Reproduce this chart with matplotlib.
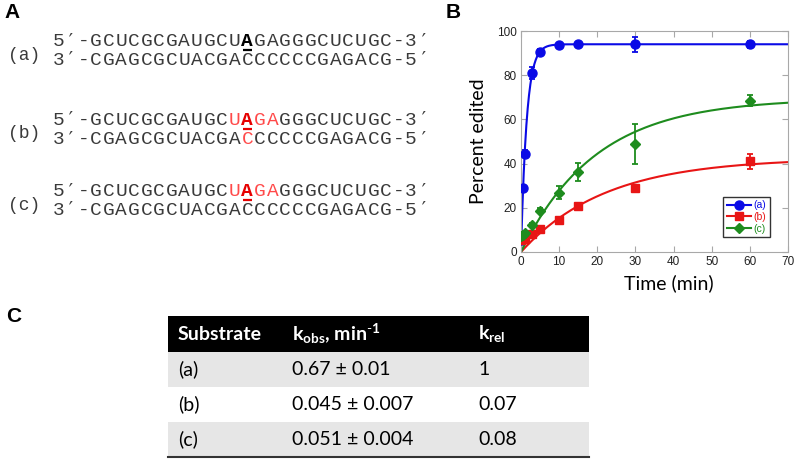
import numpy as np
import matplotlib.pyplot as plt
from matplotlib.patches import Rectangle

plt.rcParams['mathtext.fontset'] = 'custom'
plt.rcParams['mathtext.rm'] = 'Lato'
plt.rcParams['mathtext.it'] = 'Lato:italic'
plt.rcParams['mathtext.bf'] = 'Lato:bold'

# -------------------------
# DATA
# -------------------------
# panel A: duplexes
seq_top = "GCUCGCGAUGCUAGAGGGCUCUGC"
seq_bottom = "CGAGCGCUACGACCCCCCGAGACG"
constructs = ['(a)', '(b)', '(c)']
edited_pos = 12
red_top = [[], [11, 13, 14], [11, 13, 14]]
red_bottom = [[], [12], []]

# panel B: time course (percent edited)
time = [0, 0.5, 1, 3, 5, 10, 15, 30, 60]
edit_a = [5.5, 29, 44.5, 81, 90.5, 93.5, 94, 94, 94]
err_a = [1, 1, 1.5, 2.5, 1.5, 1, 1.2, 3.5, 1.5]
edit_b = [5.6, 6, 6, 8, 10.4, 14.5, 20.8, 29, 41]
err_b = [0.8, 0.8, 0.8, 1, 0.8, 0.8, 0.8, 1, 3.5]
edit_c = [7.2, 7.6, 8.5, 12.2, 18.7, 26.8, 36.3, 49, 68.5]
err_c = [0.8, 1, 1.2, 1, 1, 3, 4, 9, 2.5]
k_fit = [0.67, 0.045, 0.051]
amp_fit = [94, 42.5, 69.5]

# panel C: table
col_names = ['Substrate', r'k$_\mathbf{obs}$, min$^\mathbf{\text{-}1}$', r'k$_\mathbf{rel}$']
kobs_txt = ['0.67 ± 0.01', '0.045 ± 0.007', '0.051 ± 0.004']
krel_txt = ['1', '0.07', '0.08']

W, H = 796, 459
fig = plt.figure(figsize=(W / 100, H / 100), dpi=100)
bg = fig.add_axes([0, 0, 1, 1])
bg.set_xlim(0, W)
bg.set_ylim(H, 0)
bg.axis('off')

# -------------------------
# PANEL A
# -------------------------
mono = ['Liberation Mono', 'DejaVu Sans Mono']
pitch = 12.6
x0 = 52
gray = '#3a3a3a'
red_light = '#ff4a4a'
red_dark = '#e60000'


def draw_row(y, prefix, seq, suffix, red, bold=None, bold_color='k'):
    chars = list(prefix) + list(seq) + list(suffix)
    for i, ch in enumerate(chars):
        j = i - len(prefix)
        color, weight = gray, 'normal'
        if 0 <= j < len(seq) and j in red:
            color = red_light
        if bold is not None and j == bold:
            color, weight = bold_color, 'bold'
        fam = ['DejaVu Sans Mono'] if ch == '′' else mono
        bg.text(x0 + (i + 0.5) * pitch, y, ch, ha='center', va='baseline',
                family=fam, fontsize=14, color=color, fontweight=weight)
    if bold is not None:
        xl = x0 + (len(prefix) + bold) * pitch
        bg.plot([xl + 1.5, xl + pitch - 1.5], [y + 4, y + 4], color=bold_color,
                lw=1.6, solid_capstyle='butt')


row_top = [46, 125, 196]
for k, name in enumerate(constructs):
    y = row_top[k]
    bcol = 'k' if k == 0 else red_dark
    bg.text(8, y + 9, name, family=mono, fontsize=13, color=gray,
            ha='left', va='center')
    draw_row(y, "5′-", seq_top, "-3′", red_top[k], bold=edited_pos, bold_color=bcol)
    draw_row(y + 19, "3′-", seq_bottom, "-5′", red_bottom[k])

bg.text(4, 12, 'A', fontsize=15, fontweight='bold', family='Liberation Sans',
        ha='left', va='center')
bg.text(446, 12, 'B', fontsize=15, fontweight='bold', family='Liberation Sans',
        ha='left', va='center')
bg.text(6, 316, 'C', fontsize=15, fontweight='bold', family='Liberation Sans',
        ha='left', va='center')

# -------------------------
# PANEL B
# -------------------------
ax = fig.add_axes([521 / W, 1 - 252 / H, 267 / W, 221 / H])
tt = np.linspace(0, 70, 400)
series = [
    ('(a)', edit_a, err_a, '#0a0ae6', 'o', 6.5),
    ('(b)', edit_b, err_b, '#e81515', 's', 6),
    ('(c)', edit_c, err_c, '#1e8c1e', 'D', 5),
]
for (lab, vals, err, col, mk, ms), k, A in zip(series, k_fit, amp_fit):
    ax.plot(tt, A * (1 - np.exp(-k * tt)), color=col, lw=1.5, zorder=2)
    ax.errorbar(time, vals, yerr=err, fmt=mk, color=col, ms=ms, capsize=2.5,
                elinewidth=1.3, capthick=1.3, zorder=3)
    ax.plot([], [], color=col, marker=mk, ms=ms, lw=1.5, label=lab)

ax.set_xlim(0, 70)
ax.set_ylim(0, 100)
ax.set_xticks(range(0, 71, 10))
ax.set_yticks(range(0, 101, 20))
for s in ax.spines.values():
    s.set_color('#a8a8a8')
ax.tick_params(direction='in', top=True, right=True, length=4, color='#a8a8a8',
               labelsize=8.5, labelcolor='#222222', pad=3)
for lbl in ax.get_xticklabels() + ax.get_yticklabels():
    lbl.set_family('Liberation Sans')
ax.set_ylabel('Percent edited', family='Lato', fontsize=14, labelpad=7)
ax.set_xlabel('Time (min)', family='Lato', fontsize=14)
ax.xaxis.set_label_coords(0.555, -0.1)

leg = ax.legend(loc='upper left', bbox_to_anchor=(0.757, 0.25), borderaxespad=0,
                fancybox=False, framealpha=1, edgecolor='#333333',
                handlelength=2.3, handletextpad=0.3, labelspacing=0.15,
                borderpad=0.35, prop={'family': 'Liberation Sans', 'size': 7.5},
                labelcolor='linecolor')
leg.get_frame().set_linewidth(1.0)

# -------------------------
# PANEL C
# -------------------------
tx0, tx1 = 168, 589
col_x = [178, 292, 478]
hdr_top, hdr_bot = 316, 352
row_h = 35
bg.add_patch(Rectangle((tx0, hdr_top), tx1 - tx0, hdr_bot - hdr_top,
                       facecolor='black', edgecolor='none'))
for c, name in enumerate(col_names):
    bg.text(col_x[c], (hdr_top + hdr_bot) / 2, name, color='white',
            family='Lato', fontweight='bold', fontsize=14, ha='left', va='center')

for r in range(3):
    top = hdr_bot + r * row_h
    if r % 2 == 0:
        bg.add_patch(Rectangle((tx0, top), tx1 - tx0, row_h,
                               facecolor='#e6e6e6', edgecolor='none'))
    yc = top + row_h / 2
    for c, txt in enumerate([constructs[r], kobs_txt[r], krel_txt[r]]):
        bg.text(col_x[c], yc, txt, color='black', family='Lato', fontsize=14,
                ha='left', va='center')
bg.plot([tx0, tx1], [hdr_bot + 3 * row_h, hdr_bot + 3 * row_h], color='#333333', lw=1.5)

fig.savefig('out.png', dpi=100)
